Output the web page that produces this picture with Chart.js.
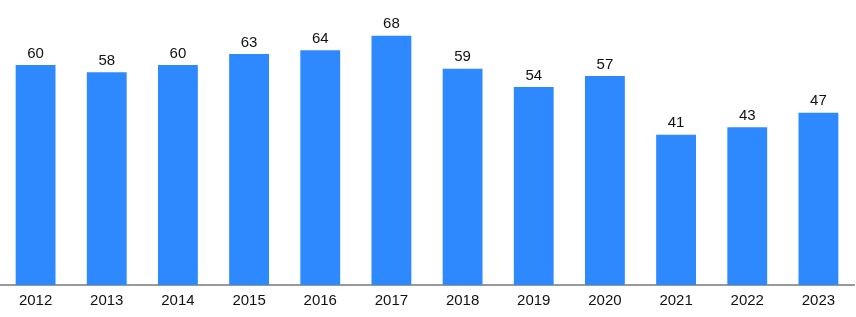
<!DOCTYPE html>
<html><head><meta charset="utf-8">
<script src="https://cdn.jsdelivr.net/npm/chart.js@4/dist/chart.umd.min.js"></script>
<style>html,body{margin:0;padding:0;background:#fff}#wrap{width:856px;height:317px}</style>
</head><body><div id="wrap"><canvas id="c"></canvas></div>
<script>
const categories = ["2012","2013","2014","2015","2016","2017","2018","2019","2020","2021","2022","2023"];
const values = [60,58,60,63,64,68,59,54,57,41,43,47];

const labelPlugin = {
  id: 'valueLabels',
  afterDatasetsDraw(chart) {
    const ctx = chart.ctx;
    const meta = chart.getDatasetMeta(0);
    ctx.save();
    ctx.font = '15px "Liberation Sans", Arial, sans-serif';
    ctx.fillStyle = '#111';
    ctx.textAlign = 'center';
    ctx.textBaseline = 'bottom';
    meta.data.forEach((bar, i) => {
      ctx.fillText(String(values[i]), bar.x, bar.y - 4);
    });
    ctx.restore();
  }
};

new Chart(document.getElementById('c'), {
  type: 'bar',
  data: { labels: categories, datasets: [{ data: values, backgroundColor: '#2E89FF', categoryPercentage: 1, barPercentage: 0.56 }] },
  options: {
    responsive: true, maintainAspectRatio: false, animation: false,
    layout: { padding: { top: 10, left: 0, right: 2, bottom: 0 } },
    plugins: { legend: { display: false }, tooltip: { enabled: false } },
    scales: {
      x: {
        grid: { display: false, drawTicks: false },
        border: { display: true, color: '#999', width: 2 },
        ticks: { color: '#111', font: { size: 15, family: '"Liberation Sans", Arial, sans-serif' }, padding: 7, maxRotation: 0 }
      },
      y: { display: false, min: 0, max: 75 }
    }
  },
  plugins: [labelPlugin]
});
</script></body></html>
